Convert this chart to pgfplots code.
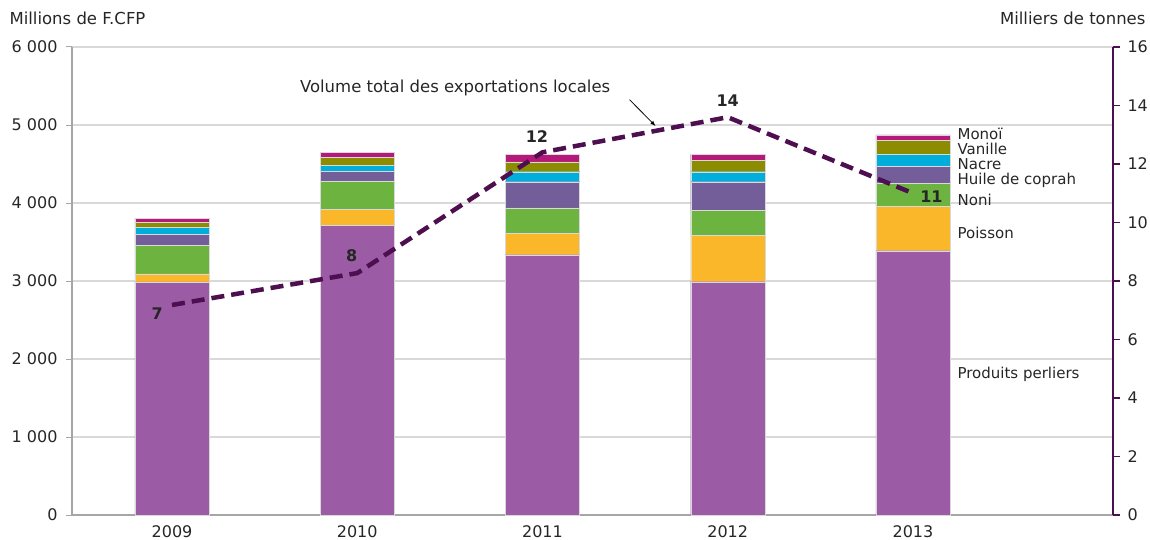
\documentclass[border=0pt]{standalone}
\usepackage{pgfplots}
\pgfplotsset{compat=1.18}
\usepackage{fontspec}
\setmainfont{DejaVu Sans}
\definecolor{cperl}{HTML}{9B5BA5}
\definecolor{cpois}{HTML}{FBB72A}
\definecolor{cnoni}{HTML}{6DB33F}
\definecolor{chuile}{HTML}{735E9A}
\definecolor{cnacre}{HTML}{00AEDB}
\definecolor{cvan}{HTML}{8D8B00}
\definecolor{cmono}{HTML}{B5197C}
\definecolor{cline}{HTML}{4E0F50}
\definecolor{ctxt}{HTML}{262626}

\begin{document}
\begin{tikzpicture}[font=\fontsize{16.5}{19}\selectfont]
\useasboundingbox (0,0) rectangle (1150pt,539pt);
\pgfplotsset{base/.style={
  at={(72pt,24pt)}, anchor=south west, scale only axis,
  width=1041pt, height=468pt, xmin=-0.54, xmax=5.08,
  tick label style={font=\fontsize{16}{19}\selectfont, text=ctxt},
  /pgf/number format/assume math mode=true}}
\begin{axis}[base, ymin=0, ymax=6000, ytick={0,1000,...,6000},
  /pgf/number format/1000 sep={\ },
  axis y line*=left, axis x line*=bottom,
  axis line style={draw=gray!70, line width=1.6pt},
  ymajorgrids, grid style={gray!30, line width=1.2pt},
  ytick style={draw=gray!70, line width=1pt}, major tick length=6pt,
  tick align=outside, xtick={0,...,4}, xticklabels={2009,2010,2011,2012,2013},
  xtick style={draw=none}, xticklabel style={yshift=-1pt},
  yticklabel style={xshift=-5pt},
  ybar stacked, bar width=0.4, 
  every axis plot/.append style={draw=white!85!black, line width=0.3pt}]
\addplot[fill=cperl] coordinates {(0,2990) (1,3710) (2,3337) (3,2991) (4,3388)};
\addplot[fill=cpois] coordinates {(0,100) (1,205) (2,278) (3,595) (4,570)};
\addplot[fill=cnoni] coordinates {(0,370) (1,368) (2,321) (3,324) (4,298)};
\addplot[fill=chuile] coordinates {(0,140) (1,119) (2,337) (3,363) (4,218)};
\addplot[fill=cnacre] coordinates {(0,90) (1,77) (2,128) (3,128) (4,150)};
\addplot[fill=cvan] coordinates {(0,65) (1,103) (2,125) (3,146) (4,180)};
\addplot[fill=cmono] coordinates {(0,50) (1,64) (2,98) (3,77) (4,68)};
\end{axis}
\begin{axis}[base, ymin=0, ymax=16, ytick={0,2,...,16},
  axis y line*=right, axis x line=none,
  axis line style={draw=cline, line width=1.8pt},
  ytick style={draw=cline, line width=1.5pt}, major tick length=7pt, tick align=outside,
  yticklabel style={xshift=4pt}]
\addplot[cline, line width=4.5pt, dash pattern=on 13pt off 7pt] coordinates {(0,7.18) (1,8.27) (2,12.4) (3,13.6) (4,11.0)};
\node[font=\fontsize{16}{19}\selectfont\bfseries, text=ctxt] at (axis cs:-0.08,6.9) {7};
\node[font=\fontsize{16}{19}\selectfont\bfseries, text=ctxt] at (axis cs:0.97,8.85) {8};
\node[font=\fontsize{16}{19}\selectfont\bfseries, text=ctxt] at (axis cs:1.97,12.95) {12};
\node[font=\fontsize{16}{19}\selectfont\bfseries, text=ctxt] at (axis cs:3.0,14.15) {14};
\node[font=\fontsize{16}{19}\selectfont\bfseries, text=ctxt] at (axis cs:4.1,10.9) {11};
\node[anchor=base west, inner sep=0pt, text=ctxt] at (axis cs:0.69,14.45) {Volume total des exportations locales};
\draw[-latex, black, line width=0.8pt] (axis cs:2.47,14.2) -- (axis cs:2.61,13.3);
\end{axis}
\begin{axis}[base, ymin=0, ymax=6000, hide axis]
\begin{scope}[every node/.style={anchor=west, inner sep=0pt, text=ctxt, font=\fontsize{15}{17}\selectfont}]
\node at (axis cs:4.24,4880) {Monoï};
\node at (axis cs:4.24,4690) {Vanille};
\node at (axis cs:4.24,4500) {Nacre};
\node at (axis cs:4.24,4295) {Huile de coprah};
\node at (axis cs:4.24,4045) {Noni};
\node at (axis cs:4.24,3620) {Poisson};
\node at (axis cs:4.24,1800) {Produits perliers};
\end{scope}
\end{axis}
\node[anchor=base west, text=ctxt] at (6pt,514pt) {Millions de F.CFP};
\node[anchor=base east, text=ctxt] at (1149pt,514pt) {Milliers de tonnes};
\end{tikzpicture}
\end{document}
